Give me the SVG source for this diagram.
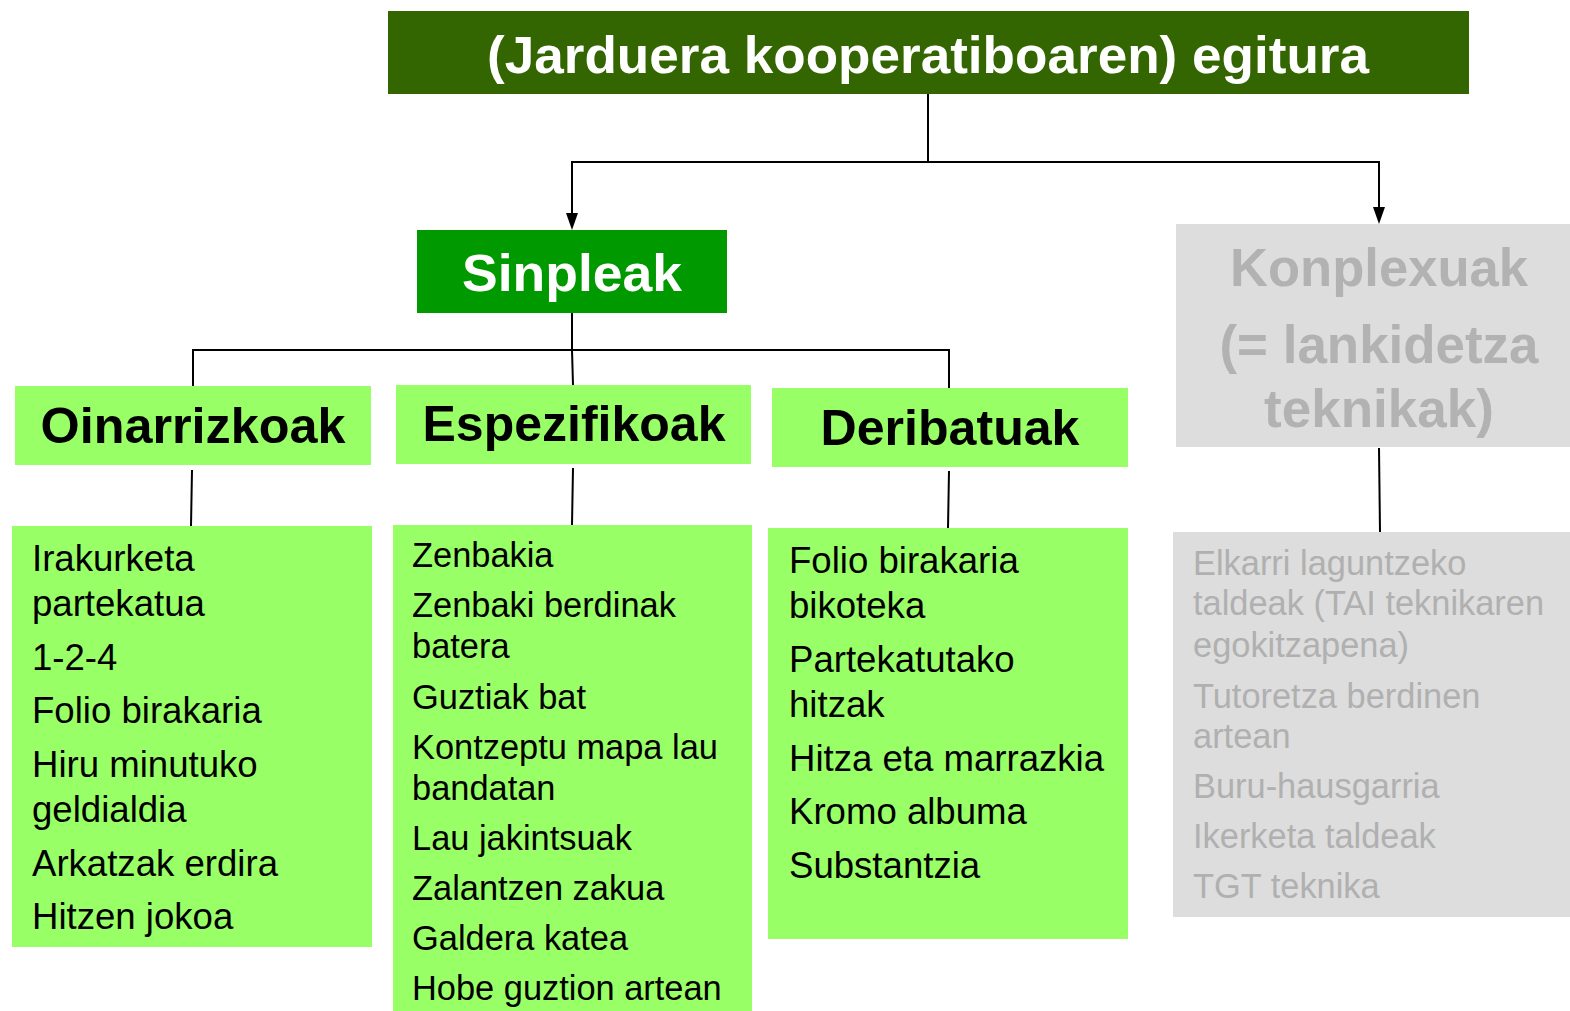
<svg xmlns="http://www.w3.org/2000/svg" width="1570" height="1011" viewBox="0 0 1570 1011">
<defs>
<style>
text{font-family:"Liberation Sans",Arial,sans-serif}
.hd{font-weight:bold;text-anchor:middle}
.li36{font-size:36.6px;fill:#000}
.li34{font-size:34.4px;fill:#000}
.gl{font-size:34.4px;fill:#b0b0b0}
.ln{stroke:#000;stroke-width:2;fill:none}
.lite{fill:#99ff66}
.grey{fill:#dddddd}
</style>
</defs>
<rect width="1570" height="1011" fill="#fff"/>
<g id="connectors">
<path class="ln" d="M928,94 V162 H572 V214"/>
<path class="ln" d="M928,162 H1379 V208"/>
<path d="M566,213 L578,213 L572,230 Z" fill="#000"/>
<path d="M1373,207 L1385,207 L1379,224 Z" fill="#000"/>
<path class="ln" d="M572,313 V350"/>
<path class="ln" d="M193,386 V350 H949 V388"/>
<path class="ln" d="M572,350 L573,385"/>
<path class="ln" d="M192,470 L191,526"/>
<path class="ln" d="M573,468 L572,525"/>
<path class="ln" d="M949,471 L948,528"/>
<path class="ln" d="M1379,448 L1380,532"/>
</g>
<g id="title">
<rect x="388" y="11" width="1081" height="83" fill="#336600"/>
<text class="hd" x="928" y="73" font-size="52" fill="#fff" textLength="882" lengthAdjust="spacingAndGlyphs">(Jarduera kooperatiboaren) egitura</text>
</g>
<g id="sinpleak">
<rect x="417" y="230" width="310" height="83" fill="#009900"/>
<text class="hd" x="572" y="291" font-size="52" fill="#fff" textLength="220" lengthAdjust="spacingAndGlyphs">Sinpleak</text>
</g>
<g id="konplexuak">
<rect x="1176" y="224" width="394" height="223" class="grey"/>
<text class="hd" x="1379" y="286" font-size="53" fill="#b2b2b2" textLength="298" lengthAdjust="spacingAndGlyphs">Konplexuak</text>
<text class="hd" x="1379" y="363" font-size="53" fill="#b2b2b2" textLength="319" lengthAdjust="spacingAndGlyphs">(= lankidetza</text>
<text class="hd" x="1379" y="427" font-size="53" fill="#b2b2b2" textLength="230" lengthAdjust="spacingAndGlyphs">teknikak)</text>
</g>
<g id="oinarrizkoak">
<rect x="15" y="386" width="356" height="79" class="lite"/>
<text class="hd" x="193" y="443" font-size="50" fill="#000" textLength="305" lengthAdjust="spacingAndGlyphs">Oinarrizkoak</text>
</g>
<g id="espezifikoak">
<rect x="396" y="385" width="355" height="79" class="lite"/>
<text class="hd" x="574" y="441" font-size="50" fill="#000" textLength="303" lengthAdjust="spacingAndGlyphs">Espezifikoak</text>
</g>
<g id="deribatuak">
<rect x="772" y="388" width="356" height="79" class="lite"/>
<text class="hd" x="950" y="445" font-size="50" fill="#000" textLength="259" lengthAdjust="spacingAndGlyphs">Deribatuak</text>
</g>
<g id="oinarrizkoak-list">
<rect x="12" y="526" width="360" height="421" class="lite"/>
<text class="li36" x="32" y="571">Irakurketa</text>
<text class="li36" x="32" y="616">partekatua</text>
<text class="li36" x="32" y="670">1-2-4</text>
<text class="li36" x="32" y="723">Folio birakaria</text>
<text class="li36" x="32" y="777">Hiru minutuko</text>
<text class="li36" x="32" y="822">geldialdia</text>
<text class="li36" x="32" y="876">Arkatzak erdira</text>
<text class="li36" x="32" y="929">Hitzen jokoa</text>
</g>
<g id="espezifikoak-list">
<rect x="393" y="525" width="359" height="486" class="lite"/>
<text class="li34" x="412" y="567">Zenbakia</text>
<text class="li34" x="412" y="617">Zenbaki berdinak</text>
<text class="li34" x="412" y="658">batera</text>
<text class="li34" x="412" y="709">Guztiak bat</text>
<text class="li34" x="412" y="759">Kontzeptu mapa lau</text>
<text class="li34" x="412" y="800">bandatan</text>
<text class="li34" x="412" y="850">Lau jakintsuak</text>
<text class="li34" x="412" y="900">Zalantzen zakua</text>
<text class="li34" x="412" y="950">Galdera katea</text>
<text class="li34" x="412" y="1000">Hobe guztion artean</text>
</g>
<g id="deribatuak-list">
<rect x="768" y="528" width="360" height="411" class="lite"/>
<text class="li36" x="789" y="573">Folio birakaria</text>
<text class="li36" x="789" y="618">bikoteka</text>
<text class="li36" x="789" y="672">Partekatutako</text>
<text class="li36" x="789" y="717">hitzak</text>
<text class="li36" x="789" y="771">Hitza eta marrazkia</text>
<text class="li36" x="789" y="824">Kromo albuma</text>
<text class="li36" x="789" y="878">Substantzia</text>
</g>
<g id="konplexuak-list">
<rect x="1173" y="532" width="397" height="385" class="grey"/>
<text class="gl" x="1193" y="575">Elkarri laguntzeko</text>
<text class="gl" x="1193" y="615">taldeak (TAI teknikaren</text>
<text class="gl" x="1193" y="657">egokitzapena)</text>
<text class="gl" x="1193" y="708">Tutoretza berdinen</text>
<text class="gl" x="1193" y="748">artean</text>
<text class="gl" x="1193" y="798">Buru-hausgarria</text>
<text class="gl" x="1193" y="848">Ikerketa taldeak</text>
<text class="gl" x="1193" y="898">TGT teknika</text>
</g>
</svg>
